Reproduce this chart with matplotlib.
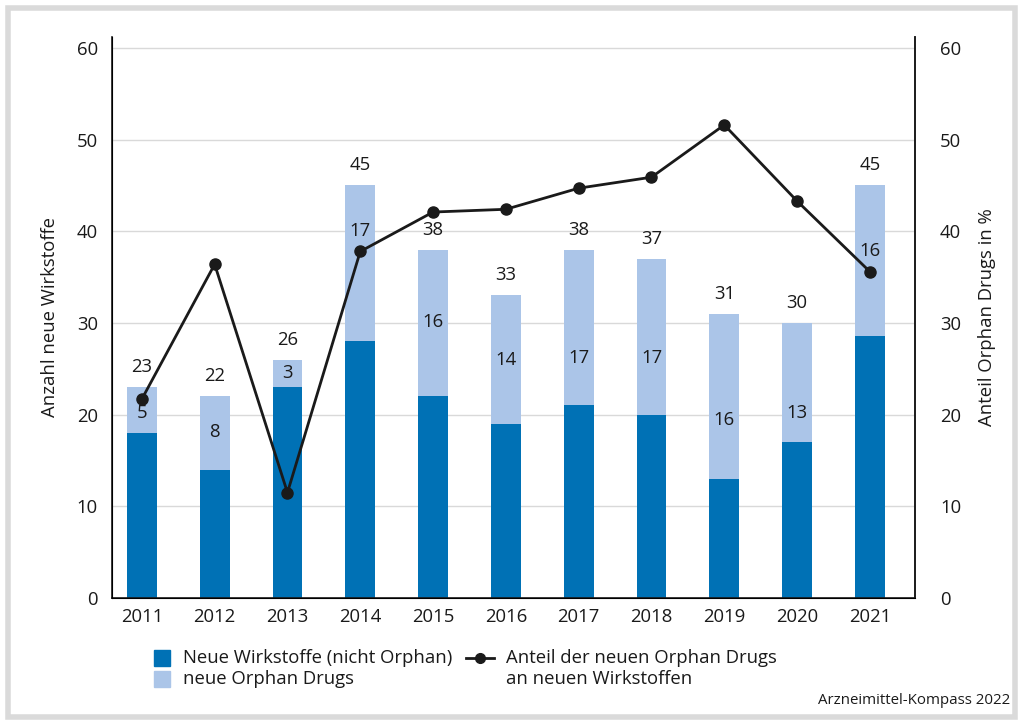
import matplotlib.pyplot as plt
from matplotlib.patches import Rectangle
from matplotlib.lines import Line2D
import numpy as np

plt.rcParams['font.family'] = ['Open Sans', 'DejaVu Sans']

# Daten
jahre = ['2011', '2012', '2013', '2014', '2015', '2016', '2017', '2018', '2019', '2020', '2021']
nicht_orphan = [18, 14, 23, 28, 22, 19, 21, 20, 13, 17, 28.6]
orphan = [5, 8, 3, 17, 16, 14, 17, 17, 16, 13, 16]
gesamt = [23, 22, 26, 45, 38, 33, 38, 37, 31, 30, 45]
anteil = [21.7, 36.4, 11.5, 37.8, 42.1, 42.4, 44.7, 45.9, 51.6, 43.3, 35.6]

# Position der Orphan-Beschriftung (Achsenwert)
label_pos = [20.2, 18.1, 24.5, 40.0, 30.1, 26.0, 26.2, 26.2, 19.4, 20.2, 37.8]

DUNKEL = '#0071b5'
HELL = '#abc5e8'
GRID = '#d9d9d9'
TEXT = '#1a1a1a'
FS = 13.3

fig = plt.figure(figsize=(10.22, 7.24), dpi=100)
ax = fig.add_axes([0.1096, 0.174, 0.7857, 0.775])

x = np.arange(len(jahre))
oben = [g - n for g, n in zip(gesamt, nicht_orphan)]
ax.bar(x, nicht_orphan, width=0.41, color=DUNKEL, zorder=2)
ax.bar(x, oben, width=0.41, bottom=nicht_orphan, color=HELL, zorder=2)

# Beschriftungen
for i in range(len(jahre)):
    ax.text(x[i], gesamt[i] + 1.2, str(gesamt[i]), ha='center', va='bottom', fontsize=FS, color=TEXT)
    ax.text(x[i], label_pos[i], str(orphan[i]), ha='center', va='center', fontsize=FS,
            color=TEXT, zorder=5)

ax.set_xlim(-0.41, 10.62)
ax.set_ylim(0, 61.2)
ax.set_yticks(range(0, 61, 10))
ax.set_xticks(x)
ax.set_xticklabels(jahre)
ax.tick_params(axis='both', length=0, labelsize=FS, colors=TEXT)
ax.tick_params(axis='y', pad=10)
ax.tick_params(axis='x', pad=7)
ax.yaxis.grid(True, color=GRID, linewidth=1, zorder=0)
ax.set_axisbelow(True)
ax.spines['top'].set_visible(False)
for s in ['left', 'right', 'bottom']:
    ax.spines[s].set_linewidth(1.2)
    ax.spines[s].set_color(TEXT)
ax.set_ylabel('Anzahl neue Wirkstoffe', fontsize=FS, labelpad=13, color=TEXT)

ax2 = ax.twinx()
ax2.plot(x, anteil, color=TEXT, linewidth=2, marker='o', markersize=8, zorder=4)
ax2.set_ylim(0, 61.2)
ax2.set_yticks(range(0, 61, 10))
ax2.tick_params(axis='y', length=0, labelsize=FS, pad=18, colors=TEXT)
ax2.spines['top'].set_visible(False)
ax2.spines['right'].set_linewidth(1.2)
ax2.spines['right'].set_color(TEXT)
ax2.set_ylabel('Anteil Orphan Drugs in %', fontsize=FS, labelpad=12, color=TEXT)

# Legende
W, H = 1022, 724
def fx(px):
    return px / W
def fy(py):
    return 1 - py / H

fig.add_artist(Rectangle((fx(154), fy(666)), 16 / W, 16 / H, transform=fig.transFigure, color=DUNKEL))
fig.add_artist(Rectangle((fx(154), fy(687)), 16 / W, 16 / H, transform=fig.transFigure, color=HELL))
fig.text(fx(183), fy(658), 'Neue Wirkstoffe (nicht Orphan)', fontsize=FS, va='center', color=TEXT)
fig.text(fx(183), fy(679), 'neue Orphan Drugs', fontsize=FS, va='center', color=TEXT)
fig.add_artist(Line2D([fx(466), fx(494)], [fy(658), fy(658)], transform=fig.transFigure,
                      color=TEXT, linewidth=2))
fig.add_artist(Line2D([fx(480)], [fy(658)], transform=fig.transFigure,
                      color=TEXT, marker='o', markersize=7, linestyle='none'))
fig.text(fx(506), fy(658), 'Anteil der neuen Orphan Drugs', fontsize=FS, va='center', color=TEXT)
fig.text(fx(506), fy(679), 'an neuen Wirkstoffen', fontsize=FS, va='center', color=TEXT)

fig.text(fx(1010), fy(701), 'Arzneimittel-Kompass 2022', fontsize=10.8, ha='right', va='center', color=TEXT)

# Rahmen
fig.add_artist(Rectangle((fx(7.5), fy(716.5)), 1007 / W, 709 / H, transform=fig.transFigure,
                         fill=False, edgecolor='#dadada', linewidth=4))

plt.savefig('out.png', dpi=100)
